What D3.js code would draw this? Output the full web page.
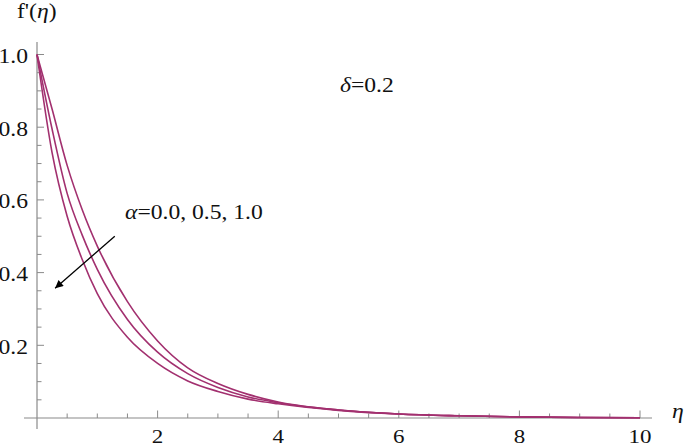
<!DOCTYPE html>
<html><head><meta charset="utf-8">
<script src="https://cdn.jsdelivr.net/npm/d3@7"></script>
<style>body{margin:0;background:#fff}svg{display:block}</style>
</head><body>
<svg id="c" width="685" height="447"></svg>
<script>
const eta = [0,0.25,0.5,0.75,1,1.5,2,2.5,3,3.5,4,5,6,7,8,9,10];
const alpha00 = [1,0.85,0.695,0.573,0.473,0.32,0.212,0.138,0.095,0.065,0.044,0.022,0.011,0.006,0.003,0.0015,0.0008];
const alpha05 = [1,0.795,0.618,0.503,0.409,0.271,0.181,0.122,0.084,0.058,0.042,0.022,0.011,0.006,0.003,0.0015,0.0008];
const alpha10 = [1,0.73,0.555,0.436,0.342,0.222,0.150,0.102,0.073,0.052,0.039,0.021,0.011,0.006,0.003,0.0015,0.0008];
const xTicks = [2,4,6,8,10];
const xTickLabels = ["2","4","6","8","10"];
const yTicks = [0.2,0.4,0.6,0.8,1.0];
const yTickLabels = ["0.2","0.4","0.6","0.8","1.0"];
const arrowFrom = [1.29,0.50];
const arrowTo = [0.30,0.357];

const svg = d3.select("#c");
const x = d3.scaleLinear([0,10],[37,640]);
const y = d3.scaleLinear([0,1],[418,54.5]);
const axisCol = "#8a8a8a";
const curveCol = "#a2306f";
const SX = 1.18;
const font = "'Liberation Serif','Times New Roman',serif";

function label(x0,y0,anchor,parts,size){
  const t = svg.append("text")
    .attr("transform",`translate(${x0},${y0}) scale(${SX},1)`)
    .attr("text-anchor",anchor)
    .attr("font-family",font).attr("font-size",size||20).attr("fill","#111");
  parts.forEach(p=>{
    t.append("tspan").text(p[0]).attr("font-style",p[1]?"italic":"normal");
  });
  return t;
}

// axes lines
svg.append("line").attr("x1",24).attr("x2",652).attr("y1",y(0)).attr("y2",y(0)).attr("stroke",axisCol).attr("stroke-width",1.2);
svg.append("line").attr("x1",x(0)).attr("x2",x(0)).attr("y1",42).attr("y2",429).attr("stroke",axisCol).attr("stroke-width",1.2);

// minor ticks
const xMinor = d3.range(0.5,10.01,0.5).filter(v=>!xTicks.some(t=>Math.abs(t-v)<1e-6));
const yMinor = d3.range(0.05,1.001,0.05).filter(v=>!yTicks.some(t=>Math.abs(t-v)<1e-6));
svg.selectAll(".xmin").data(xMinor).enter().append("line")
  .attr("x1",d=>x(d)).attr("x2",d=>x(d)).attr("y1",y(0)).attr("y2",y(0)-4.5).attr("stroke",axisCol);
svg.selectAll(".xmaj").data(xTicks).enter().append("line")
  .attr("x1",d=>x(d)).attr("x2",d=>x(d)).attr("y1",y(0)).attr("y2",y(0)-7.5).attr("stroke",axisCol);
svg.selectAll(".ymin").data(yMinor).enter().append("line")
  .attr("y1",d=>y(d)).attr("y2",d=>y(d)).attr("x1",x(0)).attr("x2",x(0)+4.5).attr("stroke",axisCol);
svg.selectAll(".ymaj").data(yTicks).enter().append("line")
  .attr("y1",d=>y(d)).attr("y2",d=>y(d)).attr("x1",x(0)).attr("x2",x(0)+7).attr("stroke",axisCol);

// tick labels
xTicks.forEach((v,i)=>label(x(v),442.5,"middle",[[xTickLabels[i],false]],19.5));
yTicks.forEach((v,i)=>label(28,y(v)+8.5,"end",[[yTickLabels[i],false]]));

// curves
const line = d3.line().x((d,i)=>x(eta[i])).y(d=>y(d)).curve(d3.curveMonotoneX);
[alpha00,alpha05,alpha10].forEach(s=>{
  svg.append("path").attr("d",line(s)).attr("fill","none").attr("stroke",curveCol).attr("stroke-width",1.6);
});

// arrow
svg.append("defs").append("marker").attr("id","ah").attr("viewBox","0 0 10 10")
  .attr("refX",10).attr("refY",5).attr("markerWidth",11).attr("markerHeight",8)
  .attr("markerUnits","userSpaceOnUse").attr("orient","auto")
  .append("path").attr("d","M0,0 L10,5 L0,10 Z").attr("fill","#000");
svg.append("line").attr("x1",x(arrowFrom[0])).attr("y1",y(arrowFrom[1]))
  .attr("x2",x(arrowTo[0])).attr("y2",y(arrowTo[1]))
  .attr("stroke","#000").attr("stroke-width",1.3).attr("marker-end","url(#ah)");

// annotations
label(125,219,"start",[["α",true],["=0.0, 0.5, 1.0",false]]);
label(340,92,"start",[["δ",true],["=0.2",false]]);
label(17,18,"start",[["f'(",false],["η",true],[")",false]]);
label(672,418,"start",[["η",true]]);
</script>
</body></html>
